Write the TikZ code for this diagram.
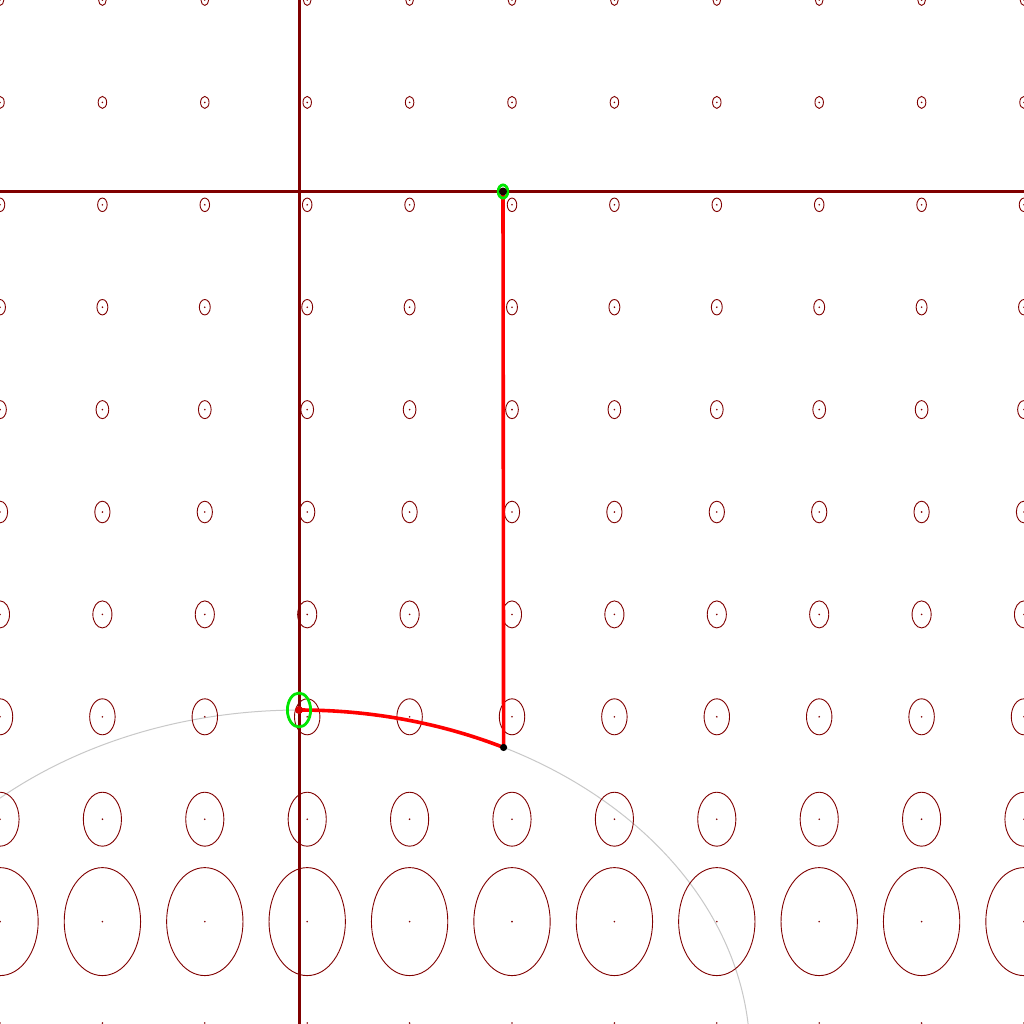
\documentclass[tikz,border=0pt]{standalone}
\definecolor{maroonc}{RGB}{128,0,0}
\definecolor{greenc}{RGB}{0,230,0}
\definecolor{grayc}{RGB}{200,200,200}
\definecolor{redc}{RGB}{255,0,0}
\tikzset{
  tissot/.style={draw=maroonc, line width=0.9bp},
  cdot/.style={fill=maroonc},
  axisline/.style={draw=maroonc, line width=3bp},
  pathred/.style={draw=redc, line width=3.6bp},
  greenell/.style={draw=greenc, line width=2.8bp},
  guide/.style={draw=grayc, line width=1bp}
}
\begin{document}
\begin{tikzpicture}[x=1bp,y=-1bp]
\useasboundingbox (0,0) rectangle (1024,1024);
\clip (0,0) rectangle (1024,1024);
\fill[white] (0,0) rectangle (1024,1024);
% guide curve
\coordinate (C) at (300,1056);
\draw[guide] (C) ellipse [x radius=450bp, y radius=346bp];
% tissot grid
\foreach \i in {0,...,10} {
  \foreach \j in {0,...,9} {
    \pgfmathsetmacro\xx{102.4*\i}
    \pgfmathsetmacro\yy{102.4*\j}
    \pgfmathsetmacro\ra{3910/(1024-\yy)}
    \pgfmathsetmacro\rb{1.414*\ra}
    \draw[tissot] (\xx,\yy) ellipse [x radius=\ra bp, y radius=\rb bp];
    \fill[cdot] (\xx,\yy) circle [radius=0.9bp];
  }
  \pgfmathsetmacro\xx{102.4*\i}
  \fill[cdot] (\xx,1023) circle [radius=0.9bp];
}
% axes
\coordinate (axT) at (299,0);
\coordinate (axB) at (299,1024);
\coordinate (axL) at (0,191.5);
\coordinate (axR) at (1024,191.5);
\draw[axisline] (axT) -- (axB);
\draw[axisline] (axL) -- (axR);
% key points
\coordinate (P) at (503,191.5);
\coordinate (Q) at ({300+450*cos(63.1)},{1056-346*sin(63.1)});
\coordinate (R) at (299,710);
% red path
\draw[pathred] (P) -- (Q);
\draw[pathred, line cap=round] plot[domain=63.1:90.13, samples=40] ({300+450*cos(\x)},{1056-346*sin(\x)});
% green ellipses
\draw[greenell] (P) ellipse [x radius=4.8bp, y radius=6.6bp];
\draw[greenell] (R) ellipse [x radius=11.6bp, y radius=17bp];
% dots
\fill[black!80!maroonc] (P) circle [radius=4bp];
\fill[black] (Q) circle [radius=3.6bp];
\fill[red!85!black] (R) circle [radius=4bp];
\end{tikzpicture}
\end{document}
